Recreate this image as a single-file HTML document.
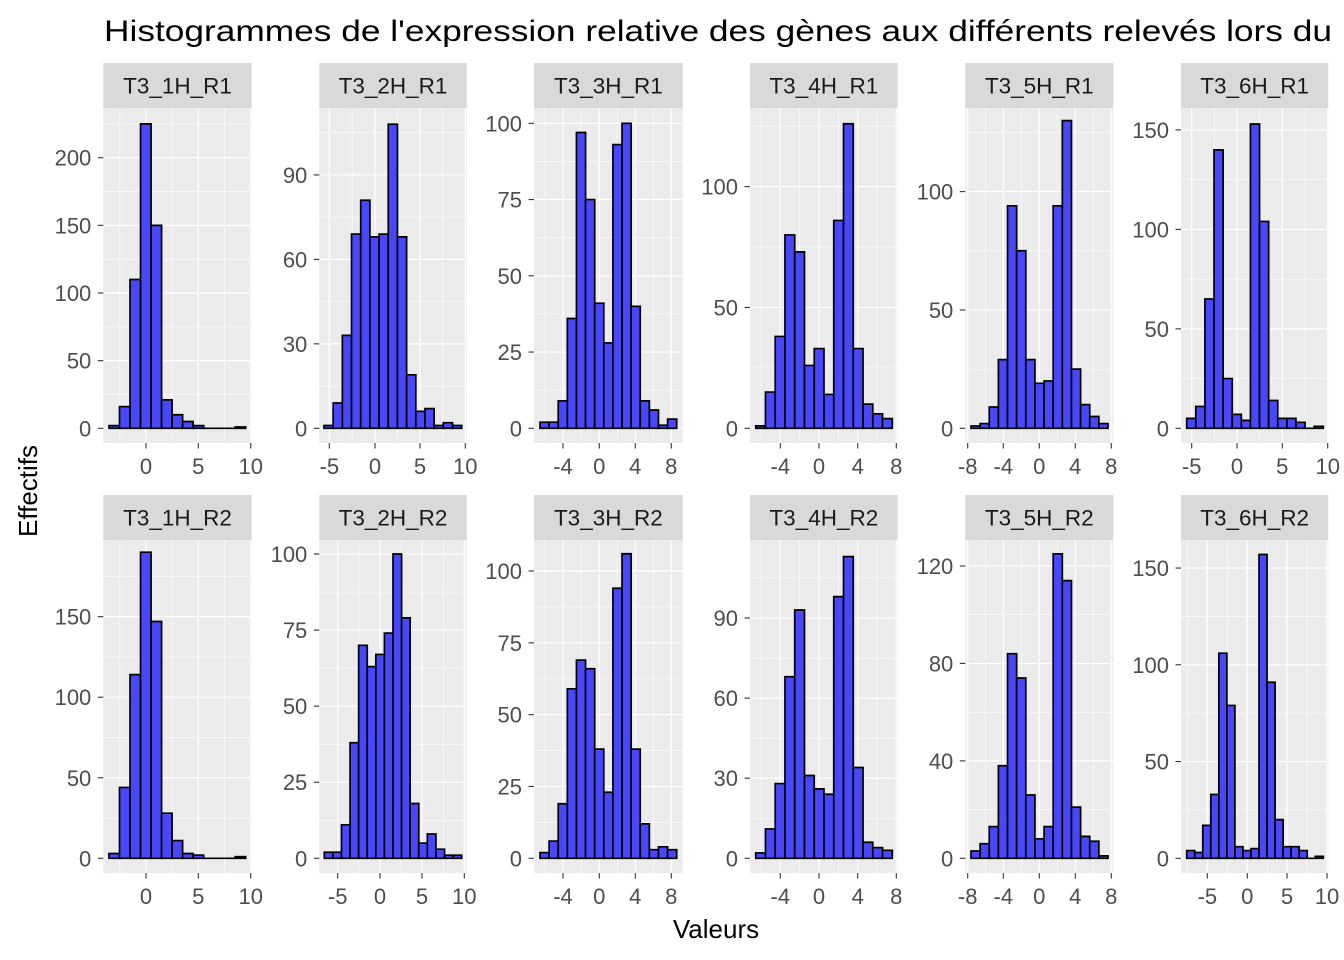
<!DOCTYPE html>
<html><head><meta charset="utf-8"><style>
html,body{margin:0;padding:0;background:#fff;}
svg{display:block;font-family:"Liberation Sans",Arial,sans-serif;}
</style></head><body>
<svg id="s" width="1344" height="960" viewBox="0 0 1344 960" xmlns="http://www.w3.org/2000/svg">
<rect width="1344" height="960" fill="#fff"/>
<text x="104" y="41" font-size="30" fill="#000" textLength="1228" lengthAdjust="spacingAndGlyphs">Histogrammes de l'expression relative des gènes aux différents relevés lors du</text>
<text x="0" y="0" font-size="26" fill="#000" text-anchor="middle" transform="translate(37,491) rotate(-90)">Effectifs</text>
<text x="716" y="938" font-size="26" fill="#000" text-anchor="middle">Valeurs</text>
<g id="g"></g>
</svg>
<script>
const P=[
{x0:103.3,x1:251.7,r:0,b0:109,b1:245.7,k:1.353,yt:[0,50,100,150,200],xt:[["0",146],["5",198.3],["10",250.7]],s:"T3_1H_R1",c:[2,16,110,225,150,21,10,5,2,0,0,0,1]},
{x0:319.3,x1:466.7,r:0,b0:324,b1:461.7,k:2.815,yt:[0,30,60,90],xt:[["-5",329.3],["0",375],["5",420],["10",465.3]],s:"T3_2H_R1",c:[1,9,33,69,81,68,69,108,68,19,6,7,1,2,1]},
{x0:534,x1:682.7,r:0,b0:540,b1:676.7,k:3.05,yt:[0,25,50,75,100],xt:[["-4",563],["0",599.3],["4",635.3],["8",671.3]],s:"T3_3H_R1",c:[2,2,9,36,97,75,41,28,93,100,40,9,6,1,3]},
{x0:750,x1:897.7,r:0,b0:755.7,b1:892.3,k:2.417,yt:[0,50,100],xt:[["-4",780.3],["0",819],["4",857.7],["8",896.3]],s:"T3_4H_R1",c:[1,15,38,80,73,26,33,14,86,126,33,10,6,4]},
{x0:965.3,x1:1113.3,r:0,b0:971,b1:1108,k:2.367,yt:[0,50,100],xt:[["-8",967.7],["-4",1003.3],["0",1039.3],["4",1075.3],["8",1111.3]],s:"T3_5H_R1",c:[1,2,9,29,94,75,29,19,20,94,130,25,10,5,2]},
{x0:1181,x1:1328.3,r:0,b0:1186.7,b1:1323.3,k:1.989,yt:[0,50,100,150],xt:[["-5",1191.7],["0",1237],["5",1282.3],["10",1327.7]],s:"T3_6H_R1",c:[5,11,65,140,25,7,4,153,104,14,5,5,3,0,1]},
{x0:103.3,x1:251.7,r:1,b0:109,b1:245.7,k:1.611,yt:[0,50,100,150],xt:[["0",146],["5",198.3],["10",250.7]],s:"T3_1H_R2",c:[3,44,114,190,147,28,11,3,2,0,0,0,1]},
{x0:319.3,x1:466.7,r:1,b0:324.3,b1:461.7,k:3.043,yt:[0,25,50,75,100],xt:[["-5",337.7],["0",380],["5",422],["10",464.3]],s:"T3_2H_R2",c:[2,2,11,38,70,63,67,74,100,79,18,5,8,3,1,1]},
{x0:534,x1:682.7,r:1,b0:540,b1:676.7,k:2.873,yt:[0,25,50,75,100],xt:[["-4",563],["0",599.3],["4",635.3],["8",671.3]],s:"T3_3H_R2",c:[2,6,19,59,69,66,38,23,94,106,38,12,3,4,3]},
{x0:750,x1:897.7,r:1,b0:755.7,b1:892.3,k:2.670,yt:[0,30,60,90],xt:[["-4",780.3],["0",819],["4",857.7],["8",896.3]],s:"T3_4H_R2",c:[2,11,28,68,93,31,26,24,98,113,34,6,4,3]},
{x0:965.3,x1:1113.3,r:1,b0:971,b1:1108,k:2.436,yt:[0,40,80,120],xt:[["-8",967.7],["-4",1003.3],["0",1039.3],["4",1075.3],["8",1111.3]],s:"T3_5H_R2",c:[3,6,13,38,84,74,26,8,13,125,114,21,9,7,1]},
{x0:1181,x1:1328.3,r:1,b0:1186.7,b1:1323.3,k:1.935,yt:[0,50,100,150],xt:[["-5",1207.3],["0",1247.3],["5",1287],["10",1327]],s:"T3_6H_R2",c:[4,3,17,33,106,79,6,4,5,157,91,20,6,6,4,0,1]}
];
let h="";
for(const p of P){
 const top=p.r?540:108, bot=p.r?873:443, base=p.r?858.3:428.3;
 const L=p.x0,R=p.x1;
 h+=`<rect x="${L}" y="${top-45}" width="${R-L}" height="45" fill="#d9d9d9"/>`;
 h+=`<text x="${(L+R)/2}" y="${top-14.5}" font-size="22.5" fill="#1a1a1a" text-anchor="middle">${p.s}</text>`;
 h+=`<rect x="${L}" y="${top}" width="${R-L}" height="${bot-top}" fill="#ebebeb"/>`;
 const xs=p.xt.map(t=>t[1]); const st=xs[1]-xs[0];
 const xm=[xs[0]-st/2]; for(let i=0;i<xs.length-1;i++)xm.push((xs[i]+xs[i+1])/2); xm.push(xs[xs.length-1]+st/2);
 for(const x of xm) if(x>L&&x<R) h+=`<line x1="${x}" x2="${x}" y1="${top}" y2="${bot}" stroke="#fff" stroke-width="0.6"/>`;
 const ys=p.yt.map(v=>base-v*p.k); const sy=ys[0]-ys[1];
 const ym=[ys[0]+sy/2]; for(let i=0;i<ys.length-1;i++)ym.push((ys[i]+ys[i+1])/2); ym.push(ys[ys.length-1]-sy/2);
 for(const y of ym) if(y>top&&y<bot) h+=`<line x1="${L}" x2="${R}" y1="${y}" y2="${y}" stroke="#fff" stroke-width="0.6"/>`;
 for(const x of xs) if(x>=L-0.5&&x<=R+0.5) h+=`<line x1="${x}" x2="${x}" y1="${top}" y2="${bot}" stroke="#fff" stroke-width="1.2"/>`;
 for(const y of ys) h+=`<line x1="${L}" x2="${R}" y1="${y}" y2="${y}" stroke="#fff" stroke-width="1.2"/>`;
 const n=p.c.length, w=(p.b1-p.b0)/n;
 for(let i=0;i<n;i++){const x=p.b0+i*w, t=base-p.c[i]*p.k;
  h+=`<path d="M${x},${base}V${t}H${x+w}V${base}Z" fill="#4848fa" stroke="#000" stroke-width="1.7" stroke-linejoin="miter"/>`;}
 for(let i=0;i<ys.length;i++){h+=`<line x1="${L-5.5}" x2="${L}" y1="${ys[i]}" y2="${ys[i]}" stroke="#333" stroke-width="1.1"/>`;
  h+=`<text x="${L-12}" y="${ys[i]+8}" font-size="22" fill="#4d4d4d" text-anchor="end">${p.yt[i]}</text>`;}
 for(const t of p.xt){h+=`<line x1="${t[1]}" x2="${t[1]}" y1="${bot}" y2="${bot+5.5}" stroke="#333" stroke-width="1.1"/>`;
  h+=`<text x="${t[1]}" y="${bot+31}" font-size="22" fill="#4d4d4d" text-anchor="middle">${t[0]}</text>`;}
}
document.getElementById("g").innerHTML=h;
</script>
</body></html>
